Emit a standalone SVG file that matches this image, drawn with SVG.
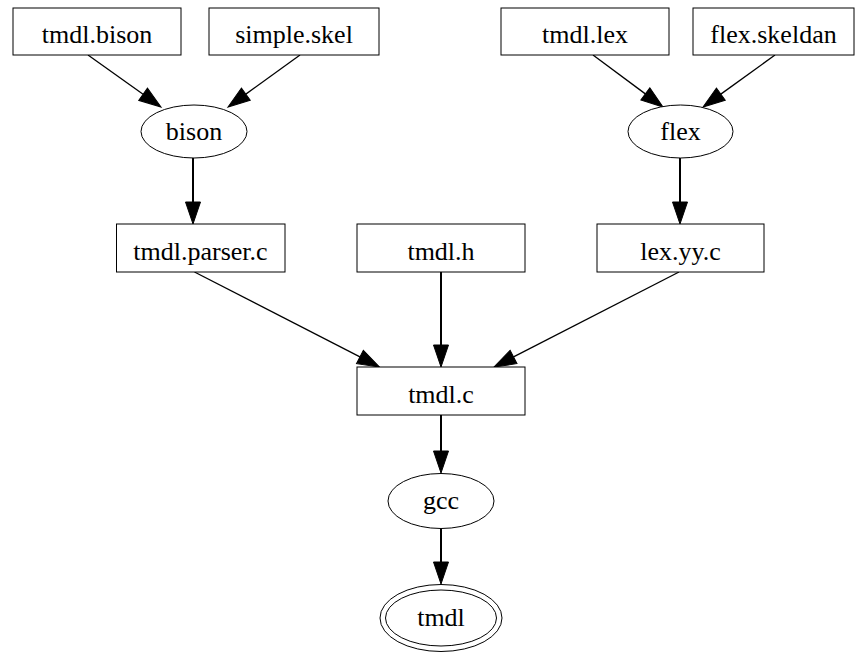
<svg xmlns="http://www.w3.org/2000/svg" width="855" height="652" viewBox="0 0 855 652">
  <style>
    .node rect, .node ellipse { fill: #fff; stroke: #000; stroke-width: 1; }
    .node text { font-family: 'Liberation Serif', 'Times New Roman', Times, serif; font-size: 26px; fill: #000; text-anchor: middle; }
    .edge { fill: none; stroke: #000; stroke-width: 1.3; }
    .edge.v { stroke-width: 2; }
  </style>
  <defs>
    <marker id="arrow" markerUnits="userSpaceOnUse" markerWidth="24" markerHeight="18" refX="0" refY="0" viewBox="0 -9 24 18" orient="auto" overflow="visible">
      <path d="M0,-7.5 L22,0 L0,7.5 z" fill="#000" stroke="#000" stroke-width="1"/>
    </marker>
  </defs>
  <rect width="855" height="652" fill="#fff"/>

  <!-- connectors -->
  <g id="edges">
    <line class="edge" x1="88" y1="55" x2="143.08" y2="94.24" marker-end="url(#arrow)"/>
    <line class="edge" x1="300" y1="55" x2="245.84" y2="94.12" marker-end="url(#arrow)"/>
    <line class="edge" x1="593" y1="55" x2="645.34" y2="93.88" marker-end="url(#arrow)"/>
    <line class="edge" x1="775" y1="55" x2="720.84" y2="94.12" marker-end="url(#arrow)"/>
    <line class="edge v" x1="193" y1="158" x2="193" y2="202" marker-end="url(#arrow)"/>
    <line class="edge v" x1="680" y1="158" x2="680" y2="202" marker-end="url(#arrow)"/>
    <line class="edge" x1="194.5" y1="272" x2="359.93" y2="356.95" marker-end="url(#arrow)"/>
    <line class="edge v" x1="441" y1="272" x2="441" y2="345" marker-end="url(#arrow)"/>
    <line class="edge" x1="679" y1="272" x2="513.57" y2="356.95" marker-end="url(#arrow)"/>
    <line class="edge v" x1="441" y1="415" x2="441" y2="451" marker-end="url(#arrow)"/>
    <line class="edge v" x1="441" y1="529" x2="441" y2="562" marker-end="url(#arrow)"/>
  </g>

  <!-- nodes -->
  <g id="tmdl_bison" class="node">
    <rect x="13" y="8" width="168" height="47"/>
    <text x="97" y="43">tmdl.bison</text>
  </g>
  <g id="simple_skel" class="node">
    <rect x="209" y="8" width="170" height="47"/>
    <text x="294" y="43">simple.skel</text>
  </g>
  <g id="tmdl_lex" class="node">
    <rect x="501" y="8" width="168" height="47"/>
    <text x="585" y="43">tmdl.lex</text>
  </g>
  <g id="flex_skeldan" class="node">
    <rect x="693" y="8" width="161" height="47"/>
    <text x="773.5" y="43">flex.skeldan</text>
  </g>
  <g id="bison" class="node">
    <ellipse cx="194" cy="131.5" rx="53" ry="26.5"/>
    <text x="194" y="140">bison</text>
  </g>
  <g id="flex" class="node">
    <ellipse cx="680.5" cy="131.5" rx="52.5" ry="26.5"/>
    <text x="680.5" y="140">flex</text>
  </g>
  <g id="tmdl_parser_c" class="node">
    <rect x="116.5" y="224" width="168.5" height="48"/>
    <text x="200.5" y="259.5">tmdl.parser.c</text>
  </g>
  <g id="tmdl_h" class="node">
    <rect x="357" y="224" width="168" height="48"/>
    <text x="441" y="259.5">tmdl.h</text>
  </g>
  <g id="lex_yy_c" class="node">
    <rect x="597" y="224" width="167" height="48"/>
    <text x="680.5" y="259.5">lex.yy.c</text>
  </g>
  <g id="tmdl_c" class="node">
    <rect x="357" y="367" width="168" height="48"/>
    <text x="441" y="402.5">tmdl.c</text>
  </g>
  <g id="gcc" class="node">
    <ellipse cx="441" cy="501" rx="53" ry="27.5"/>
    <text x="441" y="509">gcc</text>
  </g>
  <g id="tmdl" class="node">
    <ellipse cx="441" cy="618" rx="61" ry="33.5"/>
    <ellipse cx="441" cy="618" rx="55.5" ry="28"/>
    <text x="441" y="626">tmdl</text>
  </g>
</svg>
